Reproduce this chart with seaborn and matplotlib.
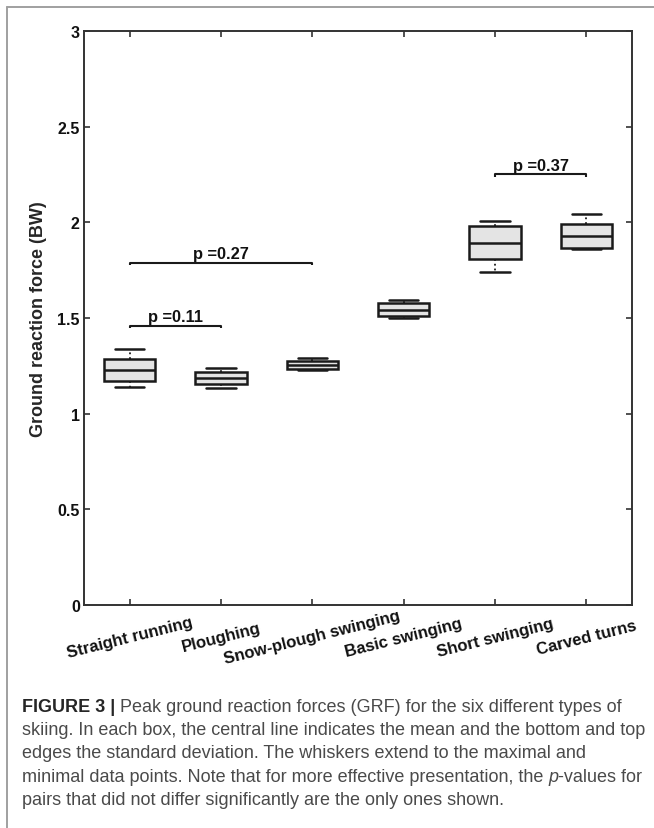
import numpy as np
import pandas as pd
import matplotlib
matplotlib.use("Agg")
import matplotlib.pyplot as plt
import seaborn as sns
from matplotlib.lines import Line2D

# peak GRF per skiing type (BW): min, mean-sd, mean, mean+sd, max
skiing = ["Straight running", "Ploughing", "Snow-plough swinging",
          "Basic swinging", "Short swinging", "Carved turns"]
grf_min = [1.137, 1.134, 1.229, 1.501, 1.740, 1.863]
grf_low = [1.169, 1.155, 1.233, 1.512, 1.810, 1.865]
grf_mean = [1.228, 1.186, 1.252, 1.543, 1.893, 1.928]
grf_high = [1.284, 1.216, 1.273, 1.581, 1.979, 1.989]
grf_max = [1.336, 1.237, 1.289, 1.593, 2.005, 2.046]

# non-significant pairs
pair_a = [0, 0, 4]
pair_b = [1, 2, 5]
pair_y = [1.46, 1.79, 2.25]
pair_text = ["p =0.11", "p =0.27", "p =0.37"]

yticks = [0, 0.5, 1, 1.5, 2, 2.5, 3]
ytick_labels = ["0", "0.5", "1", "1.5", "2", "2.5", "3"]

# five points per group -> quartiles land exactly on mean-sd / mean / mean+sd
rows = []
for i, name in enumerate(skiing):
    for v in (grf_min[i], grf_low[i], grf_mean[i], grf_high[i], grf_max[i]):
        rows.append({"type": name, "grf": v})
df = pd.DataFrame(rows)

sns.set_theme(style="ticks")
plt.rcParams["font.family"] = ["Liberation Sans", "DejaVu Sans"]

fig = plt.figure(figsize=(6.54, 8.29), dpi=100)
ax = fig.add_axes([0.1284, 0.269, 0.838, 0.6924])

edge = "#1a1a1a"
sns.boxplot(data=df, x="type", y="grf", order=skiing, ax=ax,
            whis=(0, 100), width=0.56, color="#e4e4e4", saturation=1,
            linecolor=edge, linewidth=1.8, showfliers=False,
            whiskerprops={"linestyle": ":", "linewidth": 1.3},
            capprops={"linewidth": 1.8}, capwidths=0.32)

# significance brackets
for a, b, y, s in zip(pair_a, pair_b, pair_y, pair_text):
    ax.plot([a, a, b, b], [y - 0.014, y, y, y - 0.014], color=edge, lw=1.5,
            solid_capstyle="butt")
    ax.text((a + b) / 2, y + 0.01, s, ha="center", va="bottom",
            fontsize=11.8, fontweight="bold", color="#111111")

ax.set_xlim(-0.5, 5.5)
ax.set_ylim(0, 3)
ax.set_yticks(yticks)
ax.set_yticklabels(ytick_labels, fontsize=11.5, fontweight="bold")
ax.set_xticks(range(len(skiing)))
ax.set_xticklabels(skiing, rotation=14, ha="center", va="center",
                   fontsize=12, fontweight="bold")
ax.set_xlabel("")
ax.set_ylabel("Ground reaction force (BW)", fontsize=13, fontweight="bold")
ax.yaxis.set_label_coords(-0.068, 0.5)

ax.tick_params(direction="in", length=4, width=1.2, top=True, right=True,
               colors="#333333", labelcolor="#111111")
ax.tick_params(axis="y", pad=3)
ax.tick_params(axis="x", pad=23)
for sp in ax.spines.values():
    sp.set_visible(True)
    sp.set_color("#333333")
    sp.set_linewidth(1.4)

# outer frame
fig.add_artist(Line2D([0.0107, 1.0], [0.9903, 0.9903], transform=fig.transFigure,
                      color="#a0a0a0", lw=1.4))
fig.add_artist(Line2D([0.0107, 0.0107], [0.0, 0.9903], transform=fig.transFigure,
                      color="#a0a0a0", lw=1.4))

# caption
fig.canvas.draw()
renderer = fig.canvas.get_renderer()
W, H = fig.get_size_inches() * fig.dpi
cap_size = 13.0
cap_col = "#4a4a4a"


def put_runs(runs, x_px, y_px):
    x = x_px
    for s, kw in runs:
        style = {"fontsize": cap_size, "color": cap_col}
        style.update(kw)
        t = fig.text(x / W, 1 - y_px / H, s, va="baseline", ha="left", **style)
        x += t.get_window_extent(renderer).width


lines = [
    [("FIGURE 3 | ", {"fontweight": "bold", "color": "#262626"}),
     ("Peak ground reaction forces (GRF) for the six different types of", {})],
    [("skiing. In each box, the central line indicates the mean and the bottom and top", {})],
    [("edges the standard deviation. The whiskers extend to the maximal and", {})],
    [("minimal data points. Note that for more effective presentation, the ", {}),
     ("p", {"fontstyle": "italic"}), ("-values for", {})],
    [("pairs that did not differ significantly are the only ones shown.", {})],
]
for k, runs in enumerate(lines):
    put_runs(runs, 22, 712 + 23.2 * k)

fig.savefig("out.png", dpi=100)
